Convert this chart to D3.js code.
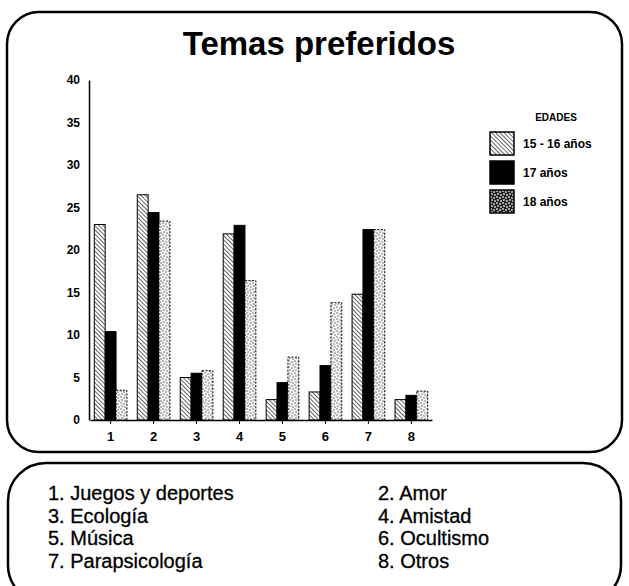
<!DOCTYPE html>
<html>
<head>
<meta charset="utf-8">
<script src="https://cdn.jsdelivr.net/npm/d3@7"></script>
<style>
  body { margin: 0; background: #fff; }
  svg { display: block; }
  .axis path, .axis line { stroke: #000; }
  .axis text { font-family: "Liberation Sans Narrow", "Liberation Sans", Arial, sans-serif; font-weight: bold; fill: #000; }
</style>
</head>
<body>
<div id="chart"></div>
<script>
// data
var categories = ['1', '2', '3', '4', '5', '6', '7', '8']
var seriesNames = ['15 - 16 años', '17 años', '18 años']
var values1516 = [23, 26.5, 5, 21.9, 2.4, 3.3, 14.8, 2.4]
var values17 = [10.4, 24.4, 5.5, 22.9, 4.4, 6.4, 22.4, 2.9]
var values18 = [3.5, 23.4, 5.8, 16.4, 7.4, 13.8, 22.4, 3.4]
var yTicks = [0, 5, 10, 15, 20, 25, 30, 35, 40]
var topicLabels = ['1. Juegos y deportes', '2. Amor', '3. Ecología', '4. Amistad',
  '5. Música', '6. Ocultismo', '7. Parapsicología', '8. Otros']

var width = 629
var height = 586

var svg = d3.select('#chart')
  .append('svg')
  .attr('width', width)
  .attr('height', height)

// fill patterns
var defs = svg.append('defs')

var hatch = defs.append('pattern')
  .attr('id', 'hatch')
  .attr('patternUnits', 'userSpaceOnUse')
  .attr('width', 3)
  .attr('height', 3)
  .attr('patternTransform', 'rotate(-45)')
hatch.append('rect').attr('width', 3).attr('height', 3).attr('fill', '#fff')
hatch.append('line')
  .attr('x1', 0).attr('y1', 0).attr('x2', 0).attr('y2', 3)
  .attr('stroke', '#222').attr('stroke-width', 1.4)

var stipple = defs.append('pattern')
  .attr('id', 'stipple')
  .attr('patternUnits', 'userSpaceOnUse')
  .attr('width', 6)
  .attr('height', 6)
stipple.append('rect').attr('width', 6).attr('height', 6).attr('fill', '#f4f4f4')
stipple.selectAll('circle')
  .data([[1, 1], [4, 2], [2, 4], [5, 5]])
  .enter().append('circle')
  .attr('cx', d => d[0]).attr('cy', d => d[1]).attr('r', 0.7)
  .attr('fill', '#555')

var stippleDark = defs.append('pattern')
  .attr('id', 'stipple-dark')
  .attr('patternUnits', 'userSpaceOnUse')
  .attr('width', 6)
  .attr('height', 6)
stippleDark.append('rect').attr('width', 6).attr('height', 6).attr('fill', '#222')
stippleDark.selectAll('circle')
  .data([[1, 1], [4, 2], [2, 4], [5, 5]])
  .enter().append('circle')
  .attr('cx', d => d[0]).attr('cy', d => d[1]).attr('r', 0.9)
  .attr('fill', '#ddd')

var fills = ['url(#hatch)', '#000', 'url(#stipple)']
var legendFills = ['url(#hatch)', '#000', 'url(#stipple-dark)']

// frames
svg.append('rect')
  .attr('x', 7).attr('y', 12)
  .attr('width', 615).attr('height', 440)
  .attr('rx', 32).attr('ry', 32)
  .attr('fill', 'none').attr('stroke', '#000').attr('stroke-width', 2.5)

svg.append('rect')
  .attr('x', 8).attr('y', 463)
  .attr('width', 613).attr('height', 140)
  .attr('rx', 38).attr('ry', 38)
  .attr('fill', 'none').attr('stroke', '#000').attr('stroke-width', 2.5)

svg.append('text')
  .attr('x', 319).attr('y', 55)
  .attr('text-anchor', 'middle')
  .attr('font-family', 'Liberation Sans, Arial, sans-serif')
  .attr('font-weight', 'bold')
  .attr('font-size', 33)
  .text('Temas preferidos')

// scales
var xPositionScale = d3.scaleBand()
  .domain(categories)
  .range([90, 432])
  .paddingInner(0.24)
  .paddingOuter(0.1)
var xSeriesScale = d3.scaleBand()
  .domain(seriesNames)
  .range([0, xPositionScale.bandwidth()])
var yPositionScale = d3.scaleLinear().domain([0, 40]).range([420, 80])

var datapoints = []
categories.forEach((c, i) => {
  [values1516, values17, values18].forEach((vals, j) => {
    datapoints.push({ category: c, series: seriesNames[j], index: j, value: vals[i] })
  })
})

svg.append('g')
  .attr('class', 'bars')
  .selectAll('.bar')
  .data(datapoints)
  .enter().append('rect')
  .attr('class', 'bar')
  .attr('x', d => xPositionScale(d.category) + xSeriesScale(d.series))
  .attr('y', d => yPositionScale(d.value))
  .attr('width', xSeriesScale.bandwidth())
  .attr('height', d => yPositionScale(0) - yPositionScale(d.value))
  .attr('fill', d => fills[d.index])
  .attr('stroke', '#000')
  .attr('stroke-width', 1)
  .attr('stroke-dasharray', d => d.index === 2 ? '2,1.5' : null)

// axes
var xAxis = d3.axisBottom(xPositionScale).tickSizeInner(4).tickSizeOuter(0).tickPadding(8)
svg.append('g')
  .attr('class', 'axis axis-x')
  .attr('transform', 'translate(0,' + yPositionScale(0) + ')')
  .call(xAxis)
  .call(g => g.selectAll('text').attr('font-size', 13))
  .call(g => g.select('.domain').attr('stroke-width', 1.5))

var yAxis = d3.axisLeft(yPositionScale).tickValues(yTicks).tickSize(0).tickPadding(9)
svg.append('g')
  .attr('class', 'axis axis-y')
  .attr('transform', 'translate(89,0)')
  .call(yAxis)
  .call(g => g.selectAll('text').attr('font-size', 12))
  .call(g => g.select('.domain').attr('stroke-width', 1.5))

// legend
svg.append('text')
  .attr('x', 556).attr('y', 121)
  .attr('text-anchor', 'middle')
  .attr('font-family', 'Liberation Sans Narrow, Arial, sans-serif')
  .attr('font-weight', 'bold')
  .attr('font-size', 10)
  .text('EDADES')

var legend = svg.append('g')
  .selectAll('.legend')
  .data(seriesNames)
  .enter().append('g')
  .attr('class', 'legend')
  .attr('transform', (d, i) => 'translate(490,' + (132 + i * 29) + ')')

legend.append('rect')
  .attr('width', 24).attr('height', 23)
  .attr('fill', (d, i) => legendFills[i])
  .attr('stroke', '#000').attr('stroke-width', 1.5)

legend.append('text')
  .attr('x', 33).attr('y', 16)
  .attr('font-family', 'Liberation Sans Narrow, Arial, sans-serif')
  .attr('font-weight', 'bold')
  .attr('font-size', 12)
  .text(d => d)

// topic list
svg.append('g')
  .selectAll('.topic')
  .data(topicLabels)
  .enter().append('text')
  .attr('class', 'topic')
  .attr('x', (d, i) => i % 2 === 0 ? 48 : 378)
  .attr('y', (d, i) => 500 + Math.floor(i / 2) * 22.7)
  .attr('font-family', 'Liberation Sans, Arial, sans-serif')
  .attr('font-size', 20)
  .attr('stroke', '#000')
  .attr('stroke-width', 0.3)
  .text(d => d)
</script>
</body>
</html>
